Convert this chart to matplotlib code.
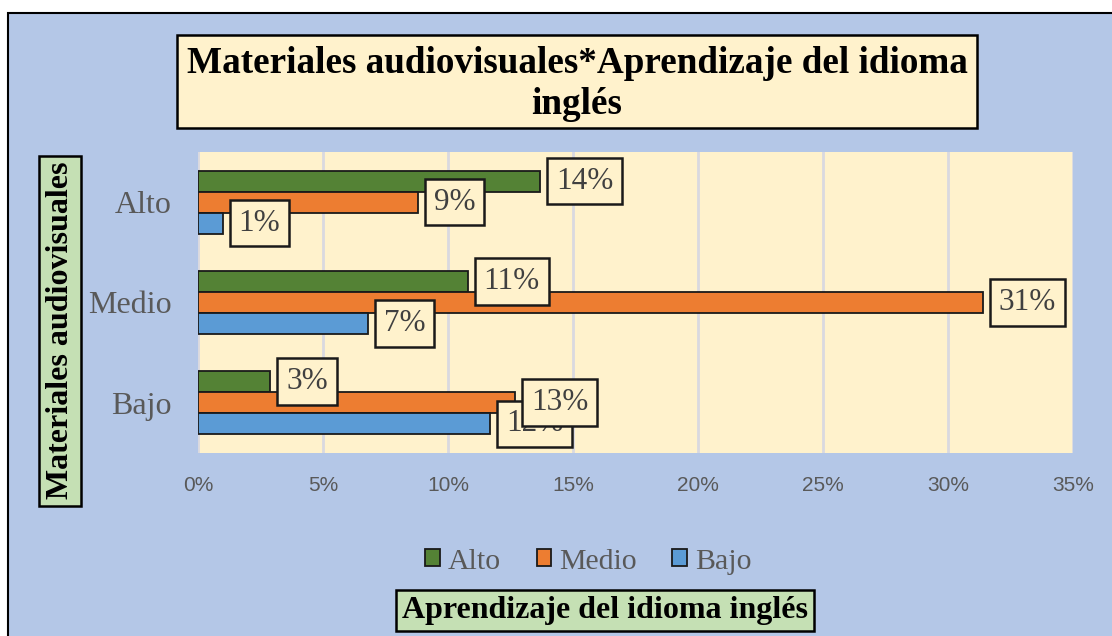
import numpy as np
import matplotlib
matplotlib.use('Agg')
import matplotlib.pyplot as plt
from matplotlib.patches import Patch, Rectangle

# data (percent)
categories = ['Alto', 'Medio', 'Bajo']          # Materiales audiovisuales
series_names = ['Alto', 'Medio', 'Bajo']        # Aprendizaje del idioma ingles
alto_vals = [13.7, 10.8, 2.9]
medio_vals = [8.8, 31.4, 12.7]
bajo_vals = [1.0, 6.8, 11.7]
xticks = [0, 5, 10, 15, 20, 25, 30, 35]

colors = ['#548235', '#ED7D31', '#5B9BD5']
bg_blue = '#B4C7E7'
cream = '#FFF2CC'
green_box = '#C5E0B4'
gray_txt = '#595959'
serif = ['Liberation Serif', 'DejaVu Serif']
narrow = ['Liberation Sans Narrow', 'Liberation Sans', 'DejaVu Sans']

W, H = 1112, 636
fig = plt.figure(figsize=(W / 100, H / 100), dpi=100)
fig.patch.set_facecolor('white')
# chart area with black frame (behind everything)
fig.patches.append(Rectangle((8 / W, -0.01), 1.0, 1.01 - 13 / H, transform=fig.transFigure,
                             facecolor=bg_blue, edgecolor='black', linewidth=1.5, zorder=-10))

ax = fig.add_axes([0.178, 0.288, 0.787, 0.473])
ax.set_zorder(1)
ax.set_facecolor(cream)

y = np.arange(len(categories))
h = 0.21
all_vals = [alto_vals, medio_vals, bajo_vals]
offsets = [-h, 0, h]
for vals, off, c, name in zip(all_vals, offsets, colors, series_names):
    ax.barh(y + off, vals, height=h, color=c, edgecolor='#1a1a1a', linewidth=1.3,
            label=name, zorder=3)

# data labels, blue first so orange sits on top where they overlap
for vals, off in zip(all_vals[::-1], offsets[::-1]):
    for yi, v in zip(y, vals):
        ax.annotate(f'{round(v)}%', (v, yi + off), xytext=(11.3, 0), textcoords='offset points',
                    ha='left', va='center', fontsize=22.5, family=serif, color='#404040',
                    bbox=dict(boxstyle='square,pad=0.28', facecolor=cream,
                              edgecolor='#1a1a1a', linewidth=1.8), zorder=5)

ax.set_xlim(0, 35)
ax.set_ylim(2.5, -0.5)
ax.set_xticks(xticks)
ax.set_xticklabels([f'{t}%' for t in xticks], family=narrow, fontsize=15, color=gray_txt)
ax.set_yticks(y)
ax.set_yticklabels(categories, family=serif, fontsize=23, color=gray_txt)
ax.tick_params(axis='both', length=0)
ax.tick_params(axis='x', pad=17)
ax.tick_params(axis='y', pad=19)
ax.grid(axis='x', color='#D9D9E0', linewidth=2, zorder=0)
ax.set_axisbelow(True)
for s in ax.spines.values():
    s.set_visible(False)

# title box
fig.patches.append(Rectangle((177 / W, 1 - 128 / H), 800 / W, 93 / H, transform=fig.transFigure,
                             facecolor=cream, edgecolor='black', linewidth=1.8, zorder=2))
fig.text(577 / W, 1 - 73 / H, 'Materiales audiovisuales*Aprendizaje del idioma',
         ha='center', va='baseline', fontsize=26.7, fontweight='bold', family=serif, zorder=3)
fig.text(577 / W, 1 - 114 / H, 'inglés',
         ha='center', va='baseline', fontsize=26.7, fontweight='bold', family=serif, zorder=3)

# axis title boxes
fig.text(0.054, 0.480, 'Materiales audiovisuales', rotation=90, ha='center', va='center',
         fontsize=23, fontweight='bold', family=serif,
         bbox=dict(boxstyle='square,pad=0.2', facecolor=green_box, edgecolor='black', linewidth=1.8))
fig.text(0.544, 0.040, 'Aprendizaje del idioma inglés', ha='center', va='center',
         fontsize=23, fontweight='bold', family=serif,
         bbox=dict(boxstyle='square,pad=0.2', facecolor=green_box, edgecolor='black', linewidth=1.8))

handles = [Patch(facecolor=c, edgecolor='#1a1a1a', linewidth=1.3) for c in colors]
leg = fig.legend(handles, series_names, loc='center', bbox_to_anchor=(0.529, 0.117), ncol=3,
                 frameon=False, prop={'family': serif, 'size': 21.5},
                 handlelength=0.5, handleheight=0.5, handletextpad=0.25, columnspacing=1.2)
for t in leg.get_texts():
    t.set_color(gray_txt)

fig.savefig('out.png', dpi=100, facecolor=fig.get_facecolor())
